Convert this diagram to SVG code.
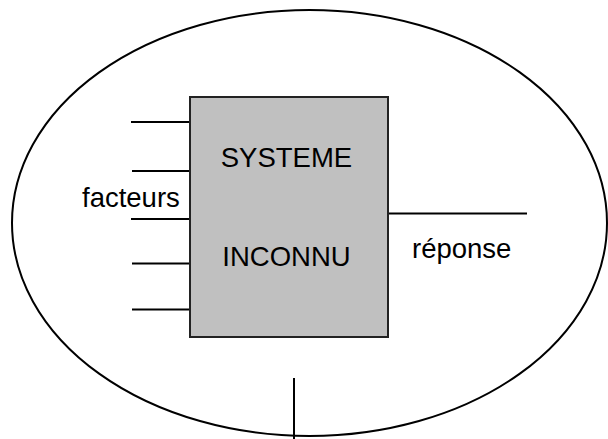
<svg xmlns="http://www.w3.org/2000/svg" width="608" height="439" viewBox="0 0 608 439">
<style>
.ln{stroke:#000;stroke-width:2;fill:none}
.t{font-family:"Liberation Sans",Arial,sans-serif;font-size:27.5px;fill:#000}
</style>
<rect width="608" height="439" fill="#fff"/>
<g id="environment">
<ellipse cx="309.5" cy="223" rx="297.5" ry="213" class="ln"/>
</g>
<g id="connectors">
<line x1="131" y1="122" x2="190" y2="122" class="ln"/>
<line x1="132" y1="171" x2="190" y2="171" class="ln"/>
<line x1="131" y1="219" x2="190" y2="219" class="ln"/>
<line x1="132" y1="263.5" x2="190" y2="263.5" class="ln"/>
<line x1="132" y1="309.5" x2="190" y2="309.5" class="ln"/>
<line x1="388" y1="213.5" x2="527" y2="213.5" class="ln"/>
<line x1="294" y1="378" x2="294" y2="439" class="ln"/>
</g>
<g id="system">
<rect x="190" y="97" width="198" height="240" fill="#c0c0c0" stroke="#222" stroke-width="2"/>
<text x="286.5" y="167" text-anchor="middle" class="t">SYSTEME</text>
<text x="286.5" y="266" text-anchor="middle" class="t">INCONNU</text>
</g>
<g id="facteurs">
<text x="82" y="207" class="t">facteurs</text>
</g>
<g id="reponse">
<text x="412" y="258" class="t">réponse</text>
</g>
</svg>
